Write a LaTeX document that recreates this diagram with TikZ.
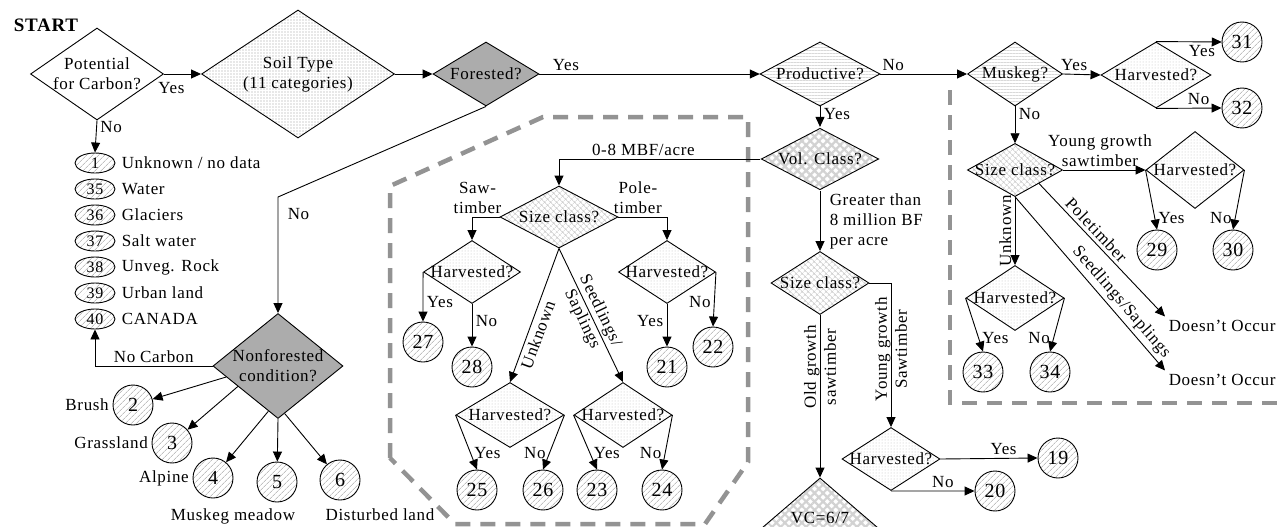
\documentclass[tikz,border=0pt]{standalone}
\usepackage{fontspec}
\setmainfont{Liberation Serif}[LetterSpace=4]
\usepackage{tikz}
\usetikzlibrary{shapes.geometric,arrows.meta,patterns.meta}

\begin{document}
\begin{tikzpicture}[x=1pt,y=-1pt,line width=0.9pt,
  font=\fontsize{17}{20}\selectfont,
  >={Triangle[length=10pt,width=9pt]},
  dia/.style 2 args={diamond,draw,inner sep=0,minimum width=#1,minimum height=#2},
  soilfill/.style={pattern={Dots[distance=3pt,radius=0.6pt]},pattern color=gray!75},
  harvfill/.style={pattern={Dots[distance=3pt,radius=0.5pt]},pattern color=gray!50},
  sizefill/.style={pattern={Hatch[angle=45,distance=4pt,line width=0.5pt]},pattern color=gray!40},
  wavefill/.style={pattern={Lines[angle=0,distance=3pt,line width=0.5pt]},pattern color=gray!30},
  volfill/.style={pattern={Hatch[angle=45,distance=6pt,line width=2.2pt]},pattern color=gray!35},
  darkfill/.style={fill=gray!65},
  numcirc/.style={circle,draw,inner sep=0,minimum size=40pt,font=\fontsize{20}{22}\selectfont,
    pattern={Lines[angle=45,distance=4pt,line width=0.5pt]},pattern color=gray!75},
  numell/.style={ellipse,draw,inner sep=0,minimum width=40pt,minimum height=20pt,font=\fontsize{16}{18}\selectfont,
    pattern={Lines[angle=45,distance=4pt,line width=0.5pt]},pattern color=gray!75},
  zone/.style={line width=4.5pt,gray!85,dash pattern=on 15pt off 10pt}]
\fill[white] (0,0) rectangle (1282,527);
\useasboundingbox (0,0) rectangle (1282,527);
\clip (0,0) rectangle (1282,527);

\draw[zone] (390,458) -- (390,186) -- (543,117) -- (748,117) -- (748,462) -- (705,524) -- (455,524) -- cycle;
\draw[zone] (950,90) -- (950,403) -- (1282,403);

\node[font=\fontsize{19}{22}\selectfont\bfseries] at (46,25) (start) {START};

\node[dia={133}{92},label={[align=center]center:Potential\\for Carbon?}] at (97,74) (pot) {};
\node[dia={193}{128},soilfill,label={[align=center]center:Soil Type\\(11 categories)}] at (298,74) (soil) {};
\node[dia={106}{64},darkfill,label=center:Forested?] at (486,74) (forest) {};
\node[dia={120}{64},wavefill,label=center:Productive?] at (820,74) (prod) {};
\node[dia={95}{64},wavefill,label=center:Muskeg?] at (1015,74) (musk) {};
\node[dia={110}{66},harvfill,label=center:Harvested?] at (1156,75) (hmusk) {};
\node[numcirc] at (1242,42) (c31) {31};
\node[numcirc] at (1242,108) (c32) {32};

\foreach \nm/\txt [count=\i from 0] in {1/{Unknown / no data},35/Water,36/Glaciers,37/Salt water,38/Unveg. Rock,39/Urban land,40/CANADA}{
  \node[numell] at (95,163+26*\i) (e\nm) {\nm};
  \node[anchor=west] at (118,163+26*\i) (t\nm) {\txt};
}

\draw[->] (pot.east) -- node[below,pos=.2,yshift=-5pt]{Yes} (soil.west);
\draw[->] (pot.south) -- node[right,pos=.2]{No} (e1.north);
\draw[->] (soil.east) -- (forest.west);
\draw[->] (forest.east) -- node[above,pos=.12]{Yes} (prod.west);
\draw[->] (prod.east) -- node[above,pos=.15]{No} (musk.west);
\draw[->] (musk.east) -- node[above,pos=.3]{Yes} (hmusk.west);
\draw[->] (hmusk.north) -- node[below,pos=.7]{Yes} (c31.west);
\draw[->] (hmusk.south) -- node[above,pos=.65]{No} (c32.west);

\node[dia={95}{53},sizefill,label=center:Size class?] at (1015,170) (szm) {};
\node[dia={98}{77},harvfill,label=center:Harvested?] at (1195,170) (h2930) {};
\node[numcirc] at (1157,250) (c29) {29};
\node[numcirc] at (1233,250) (c30) {30};
\node[dia={98}{65},harvfill,label=center:Harvested?] at (1015,298) (h3334) {};
\node[numcirc] at (983,372) (c33) {33};
\node[numcirc] at (1050,372) (c34) {34};
\node[anchor=west] at (1165,326) (dno1) {Doesn't Occur};
\node[anchor=west] at (1165,380) (dno2) {Doesn't Occur};

\draw[->] (musk.south) -- node[right,pos=.2]{No} (szm.north);
\draw[->] (szm.east) -- node[above,align=center,pos=.45]{Young growth\\sawtimber} (h2930.west);
\draw[->] (h2930.west) -- node[right,pos=.8]{Yes} (c29.north);
\draw[->] (h2930.east) -- node[left,pos=.8]{No} (c30.north);
\draw[->] (szm.south) -- node[rotate=90,anchor=south,midway]{Unknown} (h3334.north);
\draw[->] (h3334.west) -- node[right,pos=.75]{Yes} (c33.north);
\draw[->] (h3334.east) -- node[left,pos=.75]{No} (c34.north);
\draw[->] (szm.south east) -- node[sloped,above,pos=.4]{Poletimber} (dno1.north west);
\draw[->] (szm.south) -- node[sloped,above,pos=.65]{Seedlings/Saplings} (dno2.north west);

\node[dia={118}{62},volfill,label=center:Vol. Class?] at (820,159) (vol) {};
\node[dia={118}{62},sizefill,label=center:Size class?] at (559,217) (szc) {};
\node[dia={97}{63},harvfill,label=center:Harvested?] at (472,272) (h2728) {};
\node[dia={97}{63},harvfill,label=center:Harvested?] at (667,272) (h2122) {};
\node[numcirc] at (423,342) (c27) {27};
\node[numcirc] at (472,367) (c28) {28};
\node[numcirc] at (667,367) (c21) {21};
\node[numcirc] at (713,347) (c22) {22};
\node[dia={108}{65},harvfill,label=center:Harvested?] at (510,415) (h2526) {};
\node[dia={98}{65},harvfill,label=center:Harvested?] at (623,415) (h2324) {};
\node[numcirc] at (477,490) (c25) {25};
\node[numcirc] at (543,490) (c26) {26};
\node[numcirc] at (597,490) (c23) {23};
\node[numcirc] at (662,490) (c24) {24};

\draw[->] (prod.south) -- node[right,pos=.4]{Yes} (vol.north);
\draw[->] (vol.west) -| node[above,pos=.29]{0-8 MBF/acre} (szc.north);
\draw[->] (szc.west) -| node[above,align=center,pos=.4]{Saw-\\timber} (h2728.north);
\draw[->] (szc.east) -| node[above,align=center,pos=.2]{Pole-\\timber} (h2122.north);
\draw[->] (h2728.west) -- node[right,pos=.6]{Yes} (c27.north);
\draw[->] (h2728.south) -- node[right,pos=.4]{No} (c28.north);
\draw[->] (h2122.south) -- node[left,pos=.4]{Yes} (c21.north);
\draw[->] (h2122.east) -- node[left,pos=.55]{No} (c22.north);
\draw[->] (szc.south) -- node[sloped,below,pos=.62]{Unknown} (h2526.north);
\draw[->] (szc.south) -- node[sloped,align=center,midway]{Seedlings/\\Saplings} (h2324.north);
\draw[->] (h2526.west) -- node[right,pos=.7]{Yes} (c25.north);
\draw[->] (h2526.east) -- node[left,pos=.7]{No} (c26.north);
\draw[->] (h2324.west) -- node[right,pos=.7]{Yes} (c23.north);
\draw[->] (h2324.east) -- node[left,pos=.7]{No} (c24.north);

\node[dia={98}{63},sizefill,label=center:Size class?] at (820,283) (szmid) {};
\node[dia={98}{63},harvfill,label=center:Harvested?] at (891,459) (h1920) {};
\node[numcirc] at (1058,458) (c19) {19};
\node[numcirc] at (995,491) (c20) {20};
\node[dia={156}{134},volfill,label={[yshift=27pt]center:{VC=6/7}}] at (820,545) (vc) {};

\draw[->] (vol.south) -- node[right,align=left,xshift=6pt]{Greater than\\8 million BF\\per acre} (szmid.north);
\draw[->] (szmid.south) -- node[rotate=90,align=center,pos=.32]{Old growth\\sawtimber} (vc.north);
\draw[->] (szmid.east) -| node[rotate=90,align=center,pos=.73]{Young growth\\Sawtimber} (h1920.north);
\draw[->] (h1920.east) -- node[above,pos=.65]{Yes} (c19.west);
\draw[->] (h1920.south) -- node[above,pos=.62]{No} (c20.west);

\node[dia={130}{105},darkfill,label={[align=center]center:Nonforested\\condition?}] at (278,366) (nonf) {};
\node[numcirc,label=left:Brush] at (133,405) (c2) {2};
\node[numcirc,label=left:Grassland] at (172,443) (c3) {3};
\node[numcirc,label=left:Alpine] at (213,478) (c4) {4};
\node[numcirc,label={[xshift=-44pt,yshift=-2pt]below:Muskeg meadow}] at (277,482) (c5) {5};
\node[numcirc,label={[xshift=40pt,yshift=-4pt]below:Disturbed land}] at (340,480) (c6) {6};
\coordinate (nfbend) at (278,197);

\draw[->] (forest.south) -- (nfbend) -- node[right,pos=.15,xshift=6pt]{No} (nonf.north);
\draw[->] (nonf.west) -| node[above,pos=.25]{No Carbon} (e40.south);
\draw[->] (nonf.192) -- (c2);
\draw[->] (nonf.207) -- (c3);
\draw[->] (nonf.258) -- (c4);
\draw[->] (nonf.south) -- (c5);
\draw[->] (nonf.278) -- (c6);
\end{tikzpicture}
\end{document}
